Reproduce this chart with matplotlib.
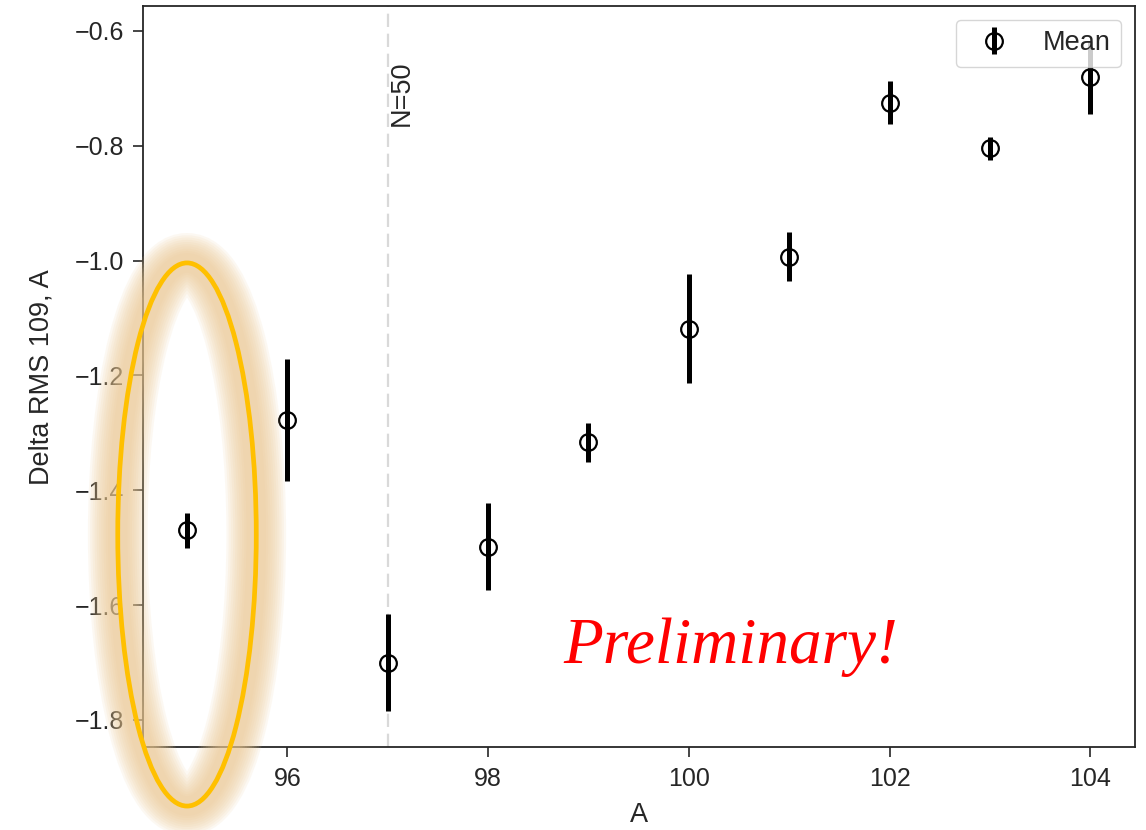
import numpy as np
import matplotlib
matplotlib.use("Agg")
import matplotlib.pyplot as plt
from matplotlib.patches import Ellipse

# DATA
A_VALUES   = [95, 96, 97, 98, 99, 100, 101, 102, 103, 104]
MEAN_DELTA = [-1.470, -1.278, -1.700, -1.498, -1.316, -1.119, -0.993, -0.725, -0.804, -0.681]
ERR_DELTA  = [0.030, 0.106, 0.085, 0.075, 0.034, 0.095, 0.043, 0.037, 0.020, 0.063]

X_TICKS = [96, 98, 100, 102, 104]
Y_TICKS = [-1.8, -1.6, -1.4, -1.2, -1.0, -0.8, -0.6]

N50_A = 97                       # where N reaches 50
HIGHLIGHT = (95.0, -1.477)       # circled point
HIGHLIGHT_SIZE = (1.38, 0.946)   # ellipse width / height in data units

# STYLE
plt.rcParams["font.family"] = ["Liberation Sans", "DejaVu Sans"]
plt.rcParams["text.color"] = "#262626"
plt.rcParams["axes.labelcolor"] = "#262626"
plt.rcParams["xtick.color"] = "#262626"
plt.rcParams["ytick.color"] = "#262626"

fig = plt.figure(figsize=(11.46, 8.30), dpi=100)
ax = fig.add_axes([0.1250, 0.0994, 0.8654, 0.8934])

ax.axvline(N50_A, color="#d9d9d9", lw=1.6, ls=(0, (6, 3)), zorder=1)
ax.text(N50_A + 0.01, -0.652, "N=50", rotation=90, ha="left", va="top",
        fontsize=19.5, color="#262626")

ax.errorbar(A_VALUES, MEAN_DELTA, yerr=ERR_DELTA, fmt="o", color="black",
            mfc="none", mec="black", ms=12, mew=1.6, elinewidth=3.6,
            capsize=0, label="Mean", zorder=3)

ax.set_xlim(94.564, 104.445)
ax.set_ylim(-1.848, -0.5565)
ax.set_xticks(X_TICKS)
ax.set_xticklabels([str(t) for t in X_TICKS])
ax.set_yticks(Y_TICKS)
ax.set_yticklabels([f"{t:.1f}".replace("-", "\u2212") for t in Y_TICKS])
ax.tick_params(axis="both", direction="out", length=7, width=1.2,
               pad=7, labelsize=18)
ax.tick_params(top=False, right=False)
for sp in ax.spines.values():
    sp.set_linewidth(1.3)
    sp.set_color("#262626")

ax.set_xlabel("A", fontsize=19.5, labelpad=8)
ax.set_ylabel("Delta RMS 109, A", fontsize=19.5, labelpad=14)

leg = ax.legend(loc="upper right", fontsize=19.5, frameon=True,
                framealpha=0.8, edgecolor="#cccccc", fancybox=True)

# soft glow + highlight ellipse around the first point
for lw in np.linspace(43, 14, 10):
    ax.add_patch(Ellipse(HIGHLIGHT, HIGHLIGHT_SIZE[0], HIGHLIGHT_SIZE[1],
                         fill=False, ec="#ecc891", lw=lw, alpha=0.115,
                         clip_on=False, zorder=8))
ax.add_patch(Ellipse(HIGHLIGHT, HIGHLIGHT_SIZE[0], HIGHLIGHT_SIZE[1],
                     fill=False, ec="#ffc000", lw=3.4, clip_on=False, zorder=9))

fig.text(731 / 1146, 1 - 663 / 830, "Preliminary!", color="red",
         family=["Liberation Serif", "DejaVu Serif"], style="italic",
         fontsize=47, ha="center", va="baseline")

fig.savefig("out.png", dpi=100)
